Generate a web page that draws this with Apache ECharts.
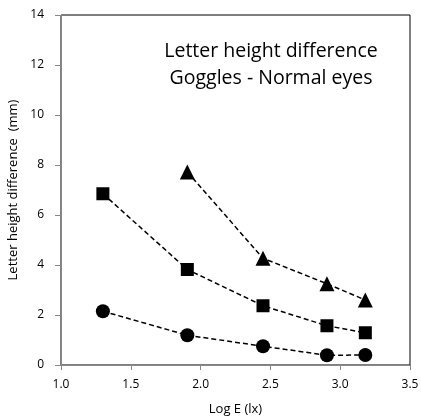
<!DOCTYPE html>
<html><head><meta charset="utf-8">
<script src="https://cdn.jsdelivr.net/npm/echarts@6/dist/echarts.min.js"></script>
<style>html,body{margin:0;padding:0;background:#fff}#c{width:421px;height:418px}</style>
</head><body><div id="c"></div>
<script>
const logE = [1.30, 1.905, 2.447, 2.905, 3.18];
const triangles = [null, 7.72, 4.27, 3.25, 2.6];
const squares = [6.85, 3.82, 2.37, 1.57, 1.29];
const circles = [2.15, 1.19, 0.75, 0.39, 0.4];
const titleLines = ['Letter height difference', 'Goggles - Normal eyes'];
const xName = 'Log E (lx)';
const yName = 'Letter height difference  (mm)';

function pairs(vals){ const out=[]; vals.forEach((v,i)=>{ if(v!==null) out.push([logE[i], v]); }); return out; }
const font = '"Open Sans", sans-serif';
function mk(name, symbol, vals, size){
  return {name, type:'line', data:pairs(vals), symbol, symbolSize:size,
    itemStyle:{color:'#000'}, lineStyle:{color:'#000', width:1.5, type:[5,3]}, z:3};
}
const chart = echarts.init(document.getElementById('c'), null, {renderer:'canvas'});
chart.setOption({
  animation:false,
  backgroundColor:'#fff',
  grid:{left:61, right:11, top:15, bottom:53, show:true, borderColor:'#000', borderWidth:1,
    containLabel:false, outerBoundsMode:'none'},
  title:{text:titleLines.join('\n'), left:266, top:33, textAlign:'center',
    textStyle:{fontFamily:font, fontSize:19.5, fontWeight:'normal', color:'#000', lineHeight:27}},
  xAxis:{type:'value', min:1, max:3.5, interval:0.5, name:xName, nameLocation:'middle', nameGap:38,
    nameTextStyle:{fontFamily:font, fontSize:13, color:'#000'},
    axisLine:{lineStyle:{color:'#888'}}, axisTick:{show:true, length:5, lineStyle:{color:'#888'}},
    axisLabel:{fontFamily:font, fontSize:12, color:'#000', formatter:v=>v.toFixed(1), margin:14},
    splitLine:{show:false}},
  yAxis:{type:'value', min:0, max:14, interval:2, name:yName, nameLocation:'middle', nameGap:39,
    nameTextStyle:{fontFamily:font, fontSize:13, color:'#000'},
    axisLine:{show:true, lineStyle:{color:'#888'}}, axisTick:{show:true, length:6, lineStyle:{color:'#888'}},
    axisLabel:{fontFamily:font, fontSize:12, color:'#000', margin:17},
    splitLine:{show:false}},
  series:[
    mk('Triangles','triangle',triangles,15),
    mk('Squares','rect',squares,13),
    mk('Circles','circle',circles,14)
  ]
});
</script></body></html>
